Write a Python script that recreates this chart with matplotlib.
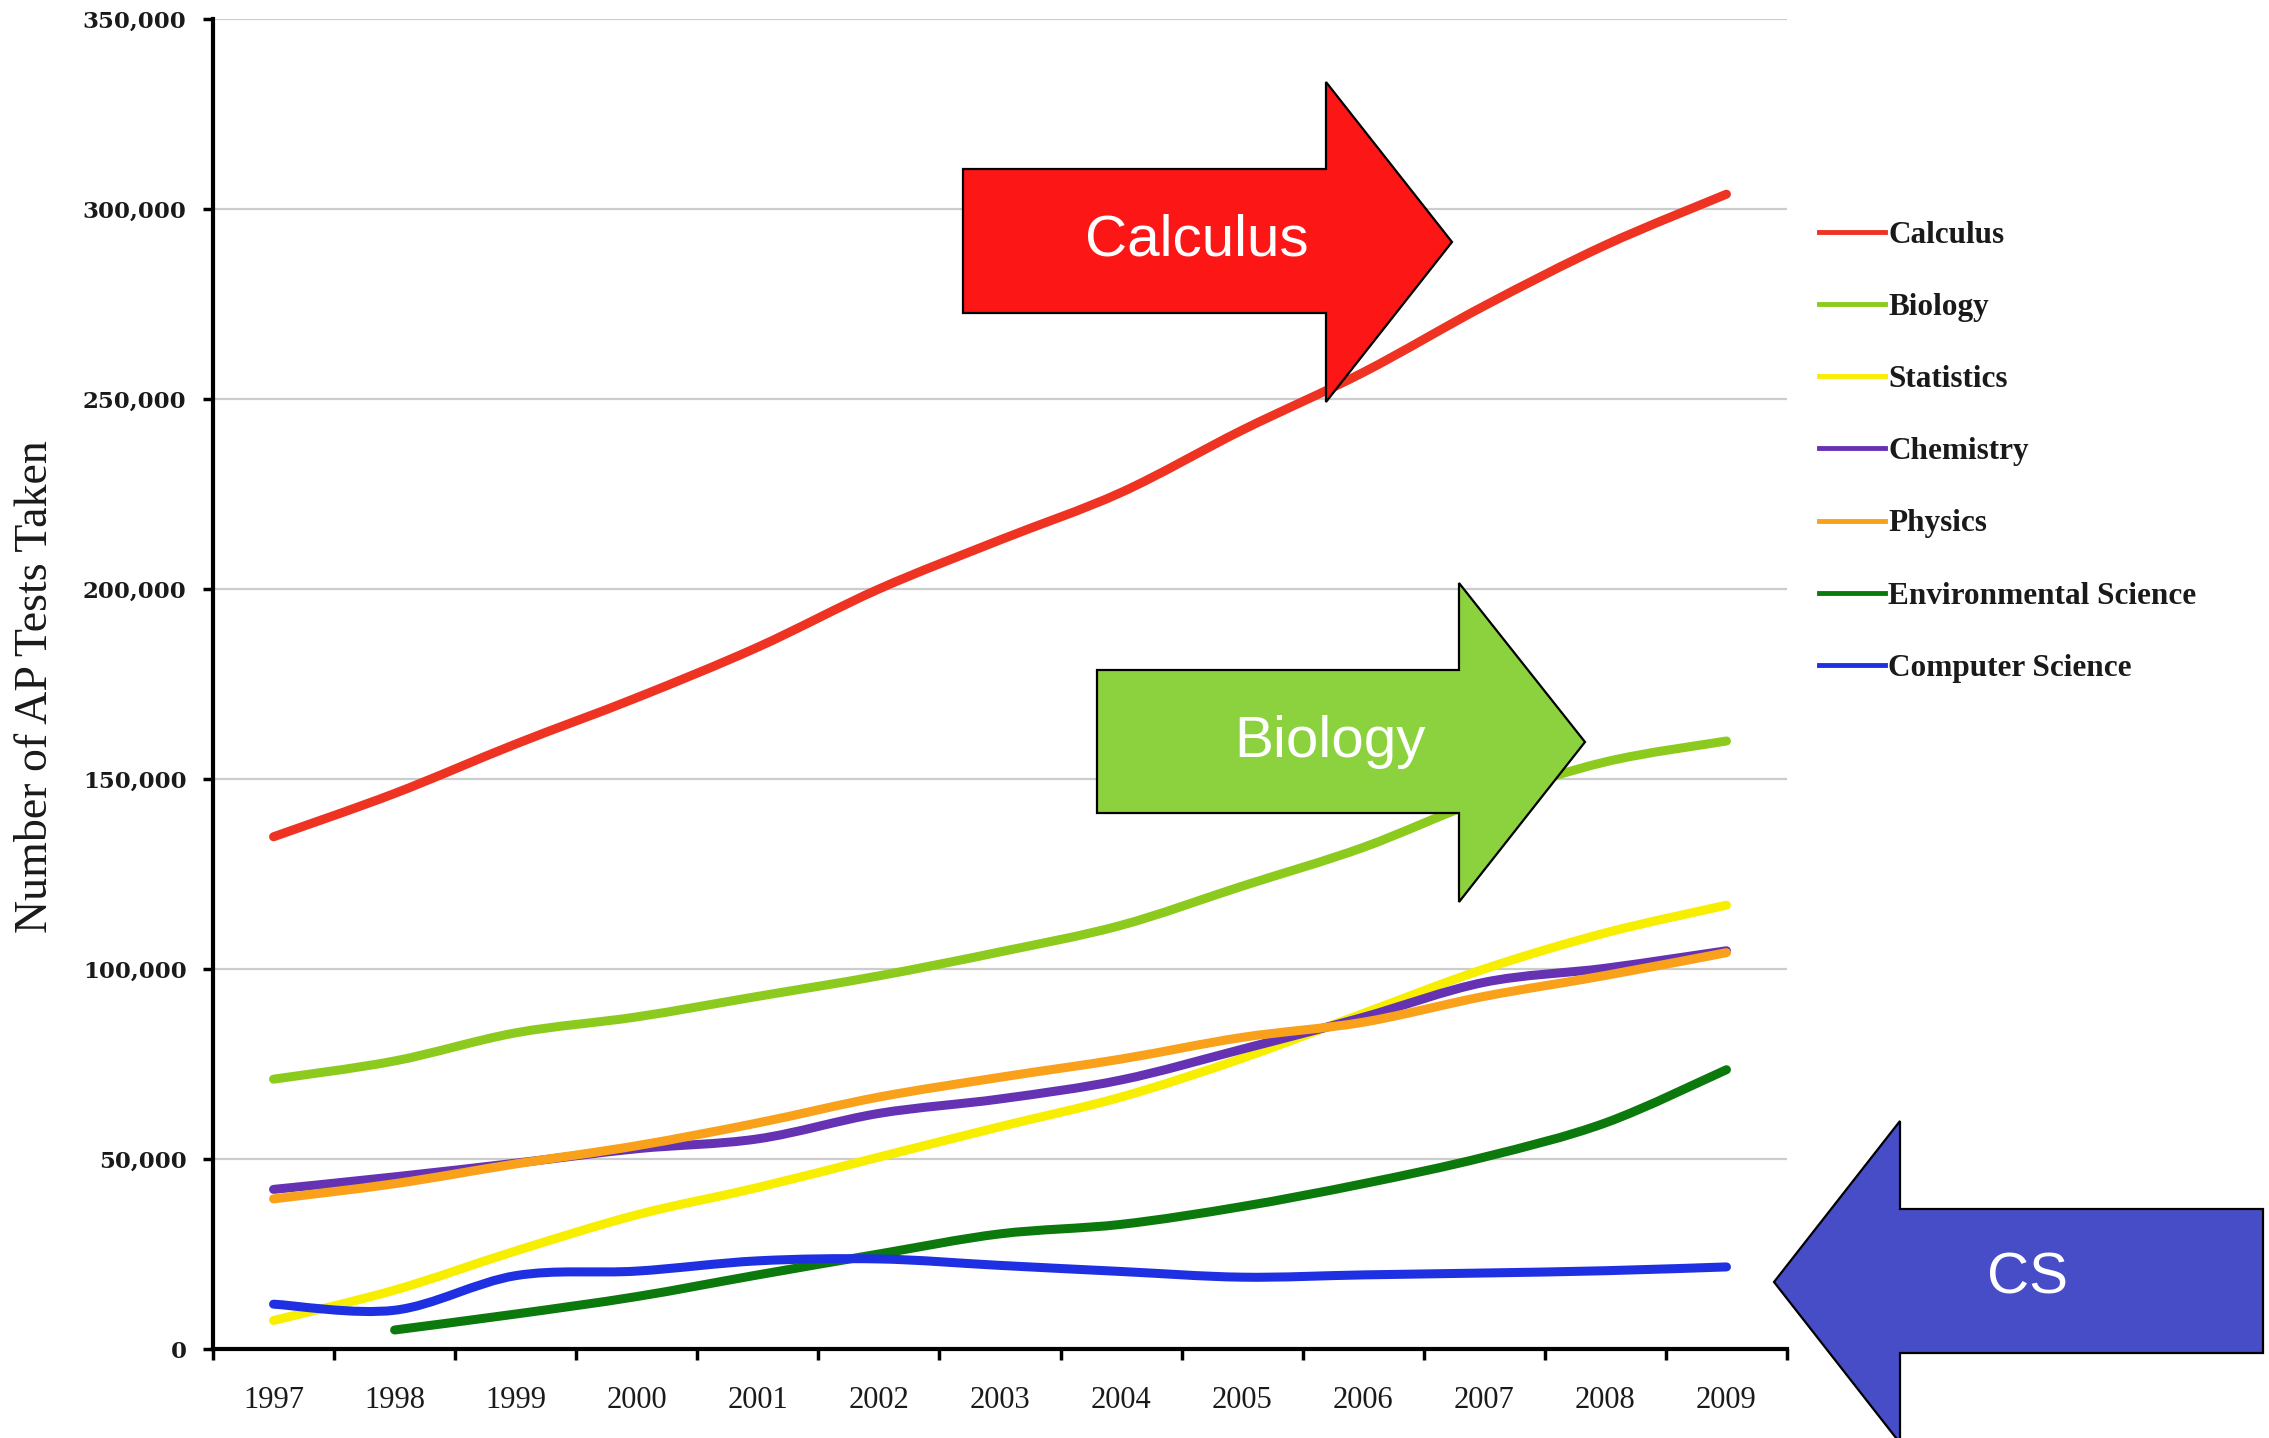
import numpy as np
import matplotlib
matplotlib.use("Agg")
import matplotlib.pyplot as plt
from matplotlib.path import Path
from matplotlib.patches import PathPatch, Polygon
from matplotlib.lines import Line2D
from matplotlib.ticker import FuncFormatter

# =============================================================================
# データ
# =============================================================================

years = np.arange(1997, 2010)

calculus = [134800, 146200, 159200, 171400, 184700, 200000, 212900,
            225400, 241800, 257000, 274500, 290500, 303900]
biology = [71000, 75800, 83200, 87400, 92800, 98200, 104500,
           111500, 121800, 132000, 144700, 154500, 160000]
statistics = [7500, 15500, 25800, 35300, 42500, 50500, 58500,
              66300, 76500, 88300, 100000, 109500, 116800]
chemistry = [42000, 45300, 48900, 52700, 55300, 62000, 65800,
             70800, 78900, 87300, 96500, 100200, 104800]
physics = [39500, 43500, 48700, 53500, 59500, 66300, 71500,
           76300, 82000, 86000, 92800, 98300, 104300]
env_science = [np.nan, 5000, 9200, 13800, 19500, 25000, 30300,
               32800, 37500, 43500, 50500, 59500, 73500]
comp_science = [11800, 10200, 19300, 20500, 23200, 23700, 22000,
                20400, 18900, 19500, 20000, 20600, 21600]

series_names = ["Calculus", "Biology", "Statistics", "Chemistry", "Physics",
                "Environmental Science", "Computer Science"]
series_values = [calculus, biology, statistics, chemistry, physics,
                 env_science, comp_science]
series_colors = ["#EE3322", "#8CCB1E", "#F7EE00", "#6632B4", "#F9A11B",
                 "#0B790B", "#1E30E2"]

y_ticks = np.arange(0, 350001, 50000)

# 矢印の注記（ピクセル座標, 左上原点）
W, H = 2269, 1438


def smooth_path(x, y):
    """Catmull-Rom 風の滑らかな曲線（Bezier）を作る"""
    x = np.asarray(x, float)
    y = np.asarray(y, float)
    ok = ~np.isnan(y)
    x, y = x[ok], y[ok]
    n = len(x)
    verts = [(x[0], y[0])]
    codes = [Path.MOVETO]
    for i in range(n - 1):
        i0, i3 = max(i - 1, 0), min(i + 2, n - 1)
        c1 = (x[i] + (x[i + 1] - x[i0]) / 6, y[i] + (y[i + 1] - y[i0]) / 6)
        c2 = (x[i + 1] - (x[i3] - x[i]) / 6, y[i + 1] - (y[i3] - y[i]) / 6)
        verts += [c1, c2, (x[i + 1], y[i + 1])]
        codes += [Path.CURVE4] * 3
    return Path(verts, codes)


def px(x, y):
    return (x / W, 1 - y / H)


def block_arrow(fig, left, right, head_base, body_top, body_bottom,
                head_top, head_bottom, tip_y, color, label, label_xy, pointing="right"):
    if pointing == "right":
        pts = [(left, body_top), (head_base, body_top), (head_base, head_top),
               (right, tip_y), (head_base, head_bottom), (head_base, body_bottom),
               (left, body_bottom)]
    else:
        pts = [(right, body_top), (head_base, body_top), (head_base, head_top),
               (left, tip_y), (head_base, head_bottom), (head_base, body_bottom),
               (right, body_bottom)]
    poly = Polygon([px(*p) for p in pts], closed=True, facecolor=color,
                   edgecolor="black", linewidth=1.6, transform=fig.transFigure,
                   zorder=5)
    fig.patches.append(poly)
    fig.text(*px(*label_xy), label, color="white", fontsize=42,
             family="Liberation Sans", ha="center", va="center", zorder=6)


fig = plt.figure(figsize=(W / 100, H / 100), dpi=100)
ax = fig.add_axes([213 / W, 1 - 1349 / H, (1787 - 213) / W, (1349 - 19) / H])

for name, vals, col in zip(series_names, series_values, series_colors):
    ax.add_patch(PathPatch(smooth_path(years, vals), fill=False, edgecolor=col,
                           linewidth=6.5, capstyle="round", zorder=3))

ax.set_xlim(1996.5, 2009.5)
ax.set_ylim(0, 350000)

# 軸・目盛り
ax.set_yticks(y_ticks)
ax.yaxis.set_major_formatter(FuncFormatter(lambda v, p: f"{int(v):,}"))
for lab in ax.get_yticklabels():
    lab.set_family("DejaVu Serif")
    lab.set_fontweight("bold")
    lab.set_fontsize(16.5)
    lab.set_color("#1a1a1a")
ax.tick_params(axis="y", length=7, width=2.5, pad=12, direction="out")

ax.set_xticks(np.arange(1996.5, 2010, 1))
ax.set_xticklabels([])
ax.set_xticks(years, minor=True)
ax.set_xticklabels([str(y) for y in years], minor=True,
                   family="Liberation Serif", fontsize=22, color="#1a1a1a")
ax.tick_params(axis="x", which="major", length=8, width=2.5, direction="out")
ax.tick_params(axis="x", which="minor", length=0, pad=27)

ax.grid(axis="y", color="#cccccc", linewidth=1.6, zorder=0)
ax.set_axisbelow(True)
for side in ["top", "right"]:
    ax.spines[side].set_visible(False)
ax.spines["left"].set_linewidth(3)
ax.spines["bottom"].set_linewidth(3)

fig.text(36 / W, 1 - 687 / H, "Number of AP Tests Taken", rotation=90,
         family="Liberation Serif", fontsize=33, color="#1a1a1a",
         ha="center", va="center")

# 凡例
handles = [Line2D([0], [0], color=c, linewidth=3.5) for c in series_colors]
leg = fig.legend(handles, series_names, loc="upper left",
                 bbox_to_anchor=px(1819, 221), frameon=False, borderpad=0,
                 borderaxespad=0, handlelength=2.1, handletextpad=0.12,
                 labelspacing=1.38,
                 prop={"family": "Liberation Serif", "weight": "bold", "size": 22.5})
for t in leg.get_texts():
    t.set_color("#1a1a1a")

# 矢印の注記
block_arrow(fig, 963, 1452, 1326, 169, 313, 82, 402, 242, "#FC1616",
            "Calculus", (1197, 240))
block_arrow(fig, 1097, 1585, 1459, 670, 813, 583, 902, 742, "#8CD23F",
            "Biology", (1330, 742))
block_arrow(fig, 1774, 2263, 1900, 1209, 1353, 1121, 1443, 1282, "#464DC6",
            "CS", (2028, 1279), pointing="left")

fig.savefig("out.png", dpi=100)
